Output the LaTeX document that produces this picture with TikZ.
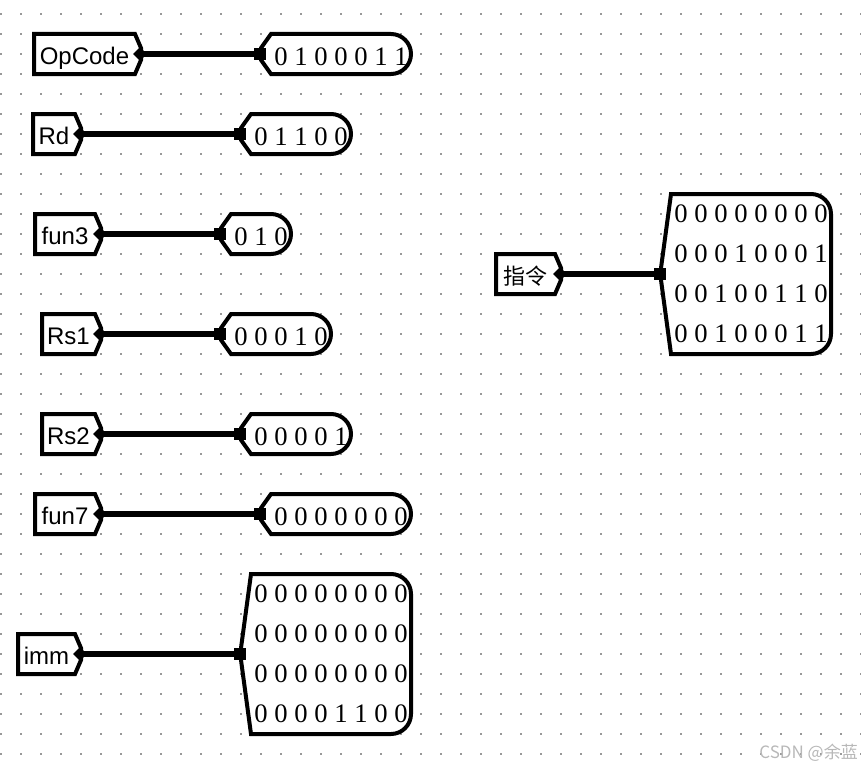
\documentclass[tikz,border=0pt]{standalone}
\usepackage{fontspec}
\setmainfont{Liberation Serif}
\setsansfont{Liberation Sans}
\newfontfamily\cjk{Noto Sans CJK SC}
\usetikzlibrary{positioning}
\usetikzlibrary{shapes.geometric}
\tikzset{shp/.style = {draw, fill = white, line width = 4, line join = miter}}
\tikzset{wire/.style = {line width = 5.5}}
\tikzset{lbl/.style = {font = \sffamily\fontsize{24}{24}\selectfont, inner sep = 0, anchor = base}}
\tikzset{val/.style = {font = \fontsize{26.67}{40}\selectfont, inner sep = 0, align = center}}
\tikzset{pinsq/.style = {fill, inner sep = 0, minimum size = 12}}
\tikzset{pindm/.style = {diamond, fill, inner sep = 0, minimum size = 14}}
\definecolor{gridgray}{rgb}{0.6, 0.6, 0.6}
\definecolor{markgray}{rgb}{0.72, 0.72, 0.72}

\begin{document}
\begin{tikzpicture}[x=1pt, y=-1pt]
    \useasboundingbox (0, 0) rectangle (861, 768);

    % dot grid
    \foreach \i in {0,...,43}
      \foreach \j in {0,...,37}
        \fill [gridgray] (20*\i, 13+20*\j) rectangle ++(2, 2);

    % one-line values
    \foreach \n/\l/\p/\q/\y/\k/\s/\t in {
        op/34/141/261/54/7/OpCode/{0 1 0 0 0 1 1},
        rd/33/81/241/134/5/Rd/{0 1 1 0 0},
        fun3/35/101/221/234/3/fun3/{0 1 0},
        rs1/42/101/221/334/5/Rs1/{0 0 0 1 0},
        rs2/42/101/241/434/5/Rs2/{0 0 0 0 1},
        fun7/35/101/261/514/7/fun7/{0 0 0 0 0 0 0}}
    {
      \draw [shp] (\l, \y-20) -- (\p-6, \y-20) -- (\p, \y-6) -- (\p, \y+6)
        -- (\p-6, \y+20) -- (\l, \y+20) -- cycle;
      \draw [shp] (\q, \y-6) -- (\q+10, \y-20) -- (\q+20*\k-10, \y-20)
        arc [start angle = -90, end angle = 90, radius = 20]
        -- (\q+10, \y+20) -- (\q, \y+6) -- cycle;
      \node [pindm] (\n-pin) at (\p-1, \y) {};
      \node [pinsq] (\n-sq) at (\q-1, \y) {};
      \draw [wire] (\n-pin.center) -- (\n-sq.center);
      \node [lbl] (\n-l) at ({(\l+\p-6)/2}, \y+10) {\s};
      \node [val, anchor = base] (\n-v) at (\q+10+10*\k, \y+11) {\t};
    }

    % four-line values
    \foreach \n/\l/\p/\q/\y/\s/\t in {
        imm/18/81/241/654/imm/{0 0 0 0 0 0 0 0\\0 0 0 0 0 0 0 0\\0 0 0 0 0 0 0 0\\0 0 0 0 1 1 0 0},
        ins/496/561/661/274/{\cjk\fontsize{22}{22}\selectfont 指令}/{0 0 0 0 0 0 0 0\\0 0 0 1 0 0 0 1\\0 0 1 0 0 1 1 0\\0 0 1 0 0 0 1 1}}
    {
      \draw [shp] (\l, \y-20) -- (\p-6, \y-20) -- (\p, \y-6) -- (\p, \y+6)
        -- (\p-6, \y+20) -- (\l, \y+20) -- cycle;
      \draw [shp] (\q, \y-6) -- (\q+10, \y-80) -- (\q+150, \y-80)
        arc [start angle = -90, end angle = 0, radius = 20] -- (\q+170, \y+60)
        arc [start angle = 0, end angle = 90, radius = 20]
        -- (\q+10, \y+80) -- (\q, \y+6) -- cycle;
      \node [pindm] (\n-pin) at (\p-1, \y) {};
      \node [pinsq] (\n-sq) at (\q-1, \y) {};
      \draw [wire] (\n-pin.center) -- (\n-sq.center);
      \node [lbl] (\n-l) at ({(\l+\p-6)/2}, \y+10) {\s};
      \node [val] (\n-v) at (\q+90, \y) {\t};
    }

    \node [font = \cjk\fontsize{17}{17}\selectfont, text = markgray, inner sep = 0,
      anchor = base east] (mark) at (858, 758) {CSDN @余蓝};
\end{tikzpicture}
\end{document}
